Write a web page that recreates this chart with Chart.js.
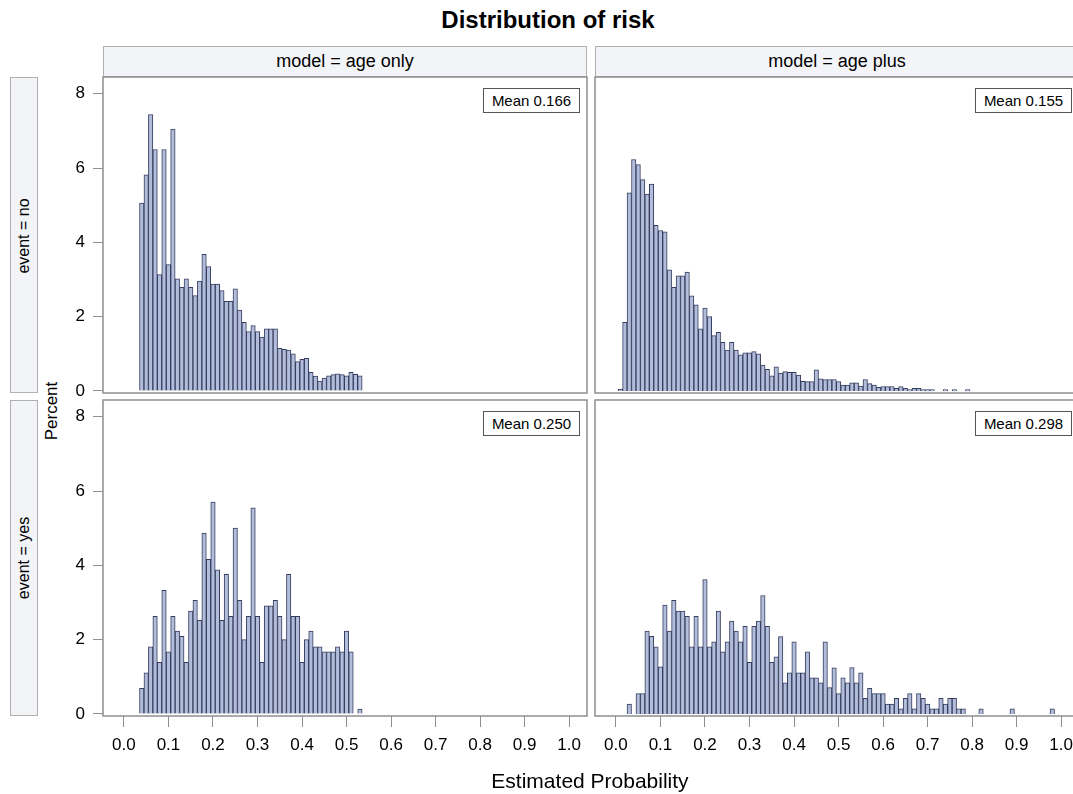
<!DOCTYPE html>
<html>
<head>
<meta charset="utf-8">
<script src="https://cdn.jsdelivr.net/npm/chart.js@4.4.0/dist/chart.umd.min.js"></script>
<style>
  body { margin: 0; width: 1073px; height: 794px; overflow: hidden; background: #fff; position: relative;
         font-family: Arial, "Liberation Sans", sans-serif; color: #000; }
  canvas { position: absolute; }
  .strip { position: absolute; box-sizing: border-box; background: #f3f4f8; border: 1px solid #b0b0b0;
           display: flex; align-items: center; justify-content: center; font-size: 18px; }
  .rot { position: absolute; transform: translate(-50%, -50%) rotate(-90deg); white-space: nowrap; }
  .mean { position: absolute; box-sizing: border-box; border: 1px solid #555; background: #fff;
          font-size: 15px; display: flex; align-items: center; justify-content: center; width: 97px; height: 25px; }
</style>
</head>
<body>
<div style="position:absolute;top:6px;left:548px;transform:translateX(-50%);font-size:24px;font-weight:bold;white-space:nowrap">Distribution of risk</div>

<div class="strip" style="left:103px;top:46px;width:484px;height:31px">model = age only</div>
<div class="strip" style="left:595px;top:46px;width:484px;height:31px">model = age plus</div>

<div class="strip" style="left:10px;top:77px;width:28px;height:316px"></div>
<div class="strip" style="left:10px;top:400px;width:28px;height:316px"></div>
<div class="rot" style="left:24px;top:236px;font-size:16px">event = no</div>
<div class="rot" style="left:24px;top:558px;font-size:16px">event = yes</div>
<div class="rot" style="left:52px;top:411px;font-size:17px">Percent</div>

<canvas id="tl" width="557" height="356" style="left:40px;top:57px"></canvas>
<canvas id="tr" width="504" height="356" style="left:585px;top:57px"></canvas>
<canvas id="bl" width="557" height="396" style="left:40px;top:380px"></canvas>
<canvas id="br" width="504" height="396" style="left:585px;top:380px"></canvas>

<div class="mean" style="left:483px;top:88px">Mean 0.166</div>
<div class="mean" style="left:975px;top:88px">Mean 0.155</div>
<div class="mean" style="left:483px;top:411px">Mean 0.250</div>
<div class="mean" style="left:975px;top:411px">Mean 0.298</div>

<div style="position:absolute;top:769px;left:590px;transform:translateX(-50%);font-size:21px;white-space:nowrap">Estimated Probability</div>

<script>
// tick labels
const X_TICKS = [0, 0.1, 0.2, 0.3, 0.4, 0.5, 0.6, 0.7, 0.8, 0.9, 1.0];
const Y_TICKS = [0, 2, 4, 6, 8];
const BIN_W = 0.01;

// percent per bin, bins centred on x.xx (first bin centre in *_FROM)
const NO_AGE_ONLY_FROM = 0.04;
const NO_AGE_ONLY = [
  5.06, 5.82, 7.44, 6.50, 3.13, 6.50, 3.40, 7.05, 3.02, 2.79,
  3.02, 2.79, 2.57, 2.96, 3.68, 3.35, 2.88, 2.88, 2.70, 2.41,
  2.41, 2.75, 2.18, 1.85, 1.60, 1.76, 1.60, 1.45, 1.67, 1.67,
  1.67, 1.15, 1.12, 1.10, 1.00, 0.79, 0.85, 0.88, 0.50, 0.40,
  0.27, 0.35, 0.41, 0.44, 0.46, 0.44, 0.41, 0.50, 0.45, 0.41
];

const NO_AGE_PLUS_FROM = 0.01;
const NO_AGE_PLUS = [
  0.05, 1.85, 5.33, 6.23, 6.09, 5.69, 5.30, 5.57, 4.46, 4.32,
  4.28, 3.26, 2.79, 3.10, 3.10, 3.20, 2.56, 2.32, 1.67, 2.23,
  2.00, 1.49, 1.58, 1.31, 1.10, 1.31, 1.10, 0.97, 1.03, 1.03,
  1.06, 1.00, 0.70, 0.58, 0.41, 0.65, 0.48, 0.52, 0.50, 0.50,
  0.43, 0.26, 0.25, 0.25, 0.57, 0.33, 0.31, 0.31, 0.31, 0.25,
  0.16, 0.16, 0.22, 0.22, 0.13, 0.31, 0.20, 0.16, 0.10, 0.12,
  0.12, 0.12, 0.07, 0.12, 0.07, 0.04, 0.07, 0.07, 0.04, 0.04,
  0.04, 0, 0, 0.04, 0, 0.04, 0, 0, 0.04
];

const YES_AGE_ONLY_FROM = 0.04;
const YES_AGE_ONLY = [
  0.69, 1.11, 1.81, 2.63, 1.39, 3.33, 1.67, 2.63, 2.23, 2.09,
  1.39, 2.77, 3.06, 2.52, 4.87, 4.16, 5.70, 3.88, 2.52, 3.76,
  2.63, 5.00, 3.06, 2.00, 2.63, 5.55, 2.63, 1.39, 2.91, 2.91,
  3.06, 2.63, 2.00, 3.76, 2.63, 2.63, 1.39, 2.00, 2.23, 1.81,
  1.81, 1.67, 1.67, 1.67, 1.81, 1.67, 2.23, 1.67, 0, 0.13
];

const YES_AGE_PLUS_FROM = 0.03;
const YES_AGE_PLUS = [
  0.27, 0, 0.55, 0.55, 2.23, 2.09, 1.81, 1.27, 2.93, 2.23,
  3.06, 2.77, 2.77, 2.63, 1.81, 2.63, 1.81, 3.62, 1.81, 1.94,
  2.77, 1.67, 1.94, 2.50, 2.23, 1.94, 2.36, 1.39, 2.36, 2.50,
  3.19, 2.36, 1.39, 1.54, 2.08, 0.84, 1.11, 1.94, 1.11, 1.11,
  1.67, 0.97, 0.97, 0.84, 1.94, 0.71, 1.24, 0.55, 0.97, 0.84,
  1.25, 0.84, 1.11, 0.42, 0.69, 0.55, 0.55, 0.55, 0.27, 0.27,
  0.42, 0.14, 0.42, 0.55, 0.14, 0.55, 0.42, 0.27, 0.14, 0.14,
  0.42, 0.27, 0.42, 0.42, 0.14, 0.14, 0, 0, 0, 0.14,
  0, 0, 0, 0, 0, 0, 0.14, 0, 0, 0,
  0, 0, 0, 0, 0, 0.14
];

const BAR_FILL = '#b2bcdb';
const BAR_LINE = '#363e5e';
const FRAME = '#8f8f8f';

function toPoints(from, vals) {
  return vals.map((v, i) => ({ x: +(from + i * BIN_W).toFixed(2), y: v }));
}

const framePlugin = {
  id: 'frame',
  afterDraw(c) {
    const { ctx, chartArea: a } = c;
    ctx.save();
    ctx.strokeStyle = FRAME;
    ctx.lineWidth = 1.5;
    ctx.strokeRect(a.left, a.top, a.right - a.left, a.bottom - a.top);
    ctx.restore();
  }
};

function panel(id, from, vals, showX, showY) {
  new Chart(document.getElementById(id), {
    type: 'bar',
    data: {
      datasets: [{
        data: toPoints(from, vals),
        backgroundColor: BAR_FILL,
        borderColor: BAR_LINE,
        borderWidth: 1,
        barPercentage: 1,
        categoryPercentage: 1
      }]
    },
    options: {
      responsive: false, animation: false, devicePixelRatio: 1,
      layout: { padding: { top: 20, right: 10, bottom: showX ? 0 : 20, left: showY ? 0 : 10 } },
      plugins: { legend: { display: false }, tooltip: { enabled: false } },
      scales: {
        x: {
          type: 'linear', min: -0.047, max: 1.04, display: showX, offset: false,
          afterBuildTicks: s => { s.ticks = X_TICKS.map(v => ({ value: v })); },
          afterFit: s => { s.height = showX ? 60 : 0; },
          grid: { drawOnChartArea: false, offset: false, tickLength: 11, color: FRAME },
          border: { display: false },
          ticks: { color: '#000', font: { size: 17, family: 'Arial' }, padding: 8, maxRotation: 0, autoSkip: false,
                   callback: v => v.toFixed(1) }
        },
        y: {
          min: -0.054, max: 8.45, display: showY,
          afterBuildTicks: s => { s.ticks = Y_TICKS.map(v => ({ value: v })); },
          afterFit: s => { s.width = showY ? 63 : 0; },
          grid: { drawOnChartArea: false, tickLength: 10, color: FRAME },
          border: { display: false },
          ticks: { color: '#000', font: { size: 17, family: 'Arial' }, padding: 8 }
        }
      }
    },
    plugins: [framePlugin]
  });
}

panel('tl', NO_AGE_ONLY_FROM, NO_AGE_ONLY, false, true);
panel('tr', NO_AGE_PLUS_FROM, NO_AGE_PLUS, false, false);
panel('bl', YES_AGE_ONLY_FROM, YES_AGE_ONLY, true, true);
panel('br', YES_AGE_PLUS_FROM, YES_AGE_PLUS, true, false);
</script>
</body>
</html>
